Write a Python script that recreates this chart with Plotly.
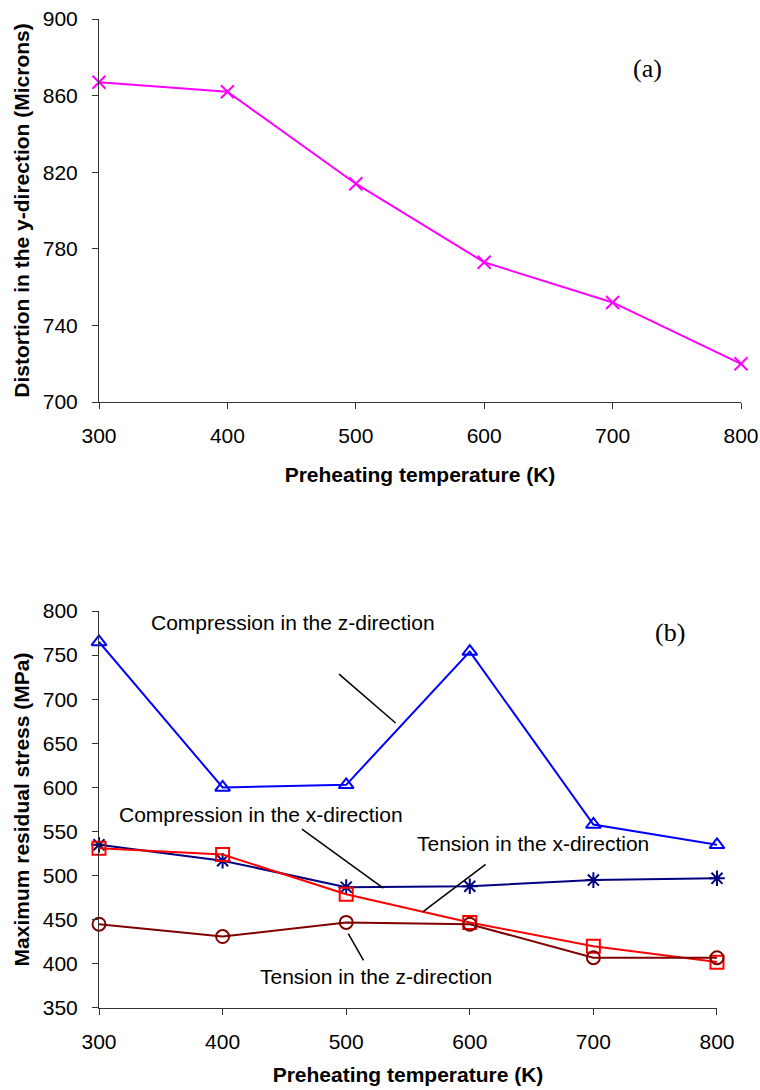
import plotly.graph_objects as go

# ---- data ----
temps = [300, 400, 500, 600, 700, 800]
distortion_y = [867, 862, 814, 773, 752, 720]

compression_z = [765, 600, 603, 754, 558, 535]
compression_x = [535, 517, 487, 488, 495, 497]
tension_x = [531, 524, 479, 447, 420, 402]
tension_z = [445, 431, 447, 445, 407, 407]

top_yticks = [700, 740, 780, 820, 860, 900]
bot_yticks = [350, 400, 450, 500, 550, 600, 650, 700, 750, 800]
xticks = [300, 400, 500, 600, 700, 800]

FONT = "Arial, Liberation Sans, sans-serif"
SERIF = "Times New Roman, Liberation Serif, serif"

fig = go.Figure()

fig.add_trace(go.Scatter(
    x=temps, y=distortion_y, mode="lines+markers", xaxis="x", yaxis="y",
    line=dict(color="#FF00FF", width=2),
    marker=dict(symbol="x-thin", size=13, line=dict(color="#FF00FF", width=2)),
    cliponaxis=False, showlegend=False))

series = [
    (compression_z, "#0000FF", "triangle-up-open"),
    (compression_x, "#000080", "asterisk-open"),
    (tension_x, "#FF0000", "square-open"),
    (tension_z, "#800000", "circle-open"),
]
for vals, col, sym in series:
    fig.add_trace(go.Scatter(
        x=temps, y=vals, mode="lines+markers", xaxis="x2", yaxis="y2",
        line=dict(color=col, width=2),
        marker=dict(symbol=sym, size=13, color=col, line=dict(color=col, width=2)),
        cliponaxis=False, showlegend=False))

axis_common = dict(
    showgrid=False, zeroline=False, showline=True, linecolor="#333333", linewidth=1,
    ticks="outside", ticklen=6, tickcolor="#333333", automargin=False,
    ticklabeloverflow="allow",
    tickfont=dict(family=FONT, size=21, color="black"),
)
title_font = dict(family=FONT, size=21, color="black")

fig.update_layout(
    width=760, height=1090,
    margin=dict(l=99, r=19, t=19, b=82, autoexpand=False),
    paper_bgcolor="white", plot_bgcolor="white",
    xaxis=dict(domain=[0, 1], anchor="y", range=[300, 800], tickvals=xticks,
               ticklabelstandoff=9,
               title=dict(text="<b>Preheating temperature (K)</b>", standoff=21, font=title_font),
               **axis_common),
    yaxis=dict(domain=[0.6127, 1], anchor="x", range=[700, 900], tickvals=top_yticks,
               ticklabelstandoff=10,
               title=dict(text="<b>Distortion in the y-direction (Microns)</b>", standoff=7,
                          font=title_font),
               **axis_common),
    xaxis2=dict(domain=[0, 0.9626], anchor="y2", range=[300, 800], tickvals=xticks,
                ticklabelstandoff=9,
                title=dict(text="<b>Preheating temperature (K)</b>", standoff=15, font=title_font),
                **axis_common),
    yaxis2=dict(domain=[0, 0.4014], anchor="x2", range=[350, 800], tickvals=bot_yticks,
                ticklabelstandoff=10,
                title=dict(text="<b>Maximum residual stress (MPa)</b>", standoff=7,
                           font=title_font),
                **axis_common),
)

# panel labels
fig.add_annotation(x=727, y=874, xref="x", yref="y", text="(a)", showarrow=False,
                   font=dict(family=SERIF, size=26, color="black"))
fig.add_annotation(x=762, y=776, xref="x2", yref="y2", text="(b)", showarrow=False,
                   font=dict(family=SERIF, size=26, color="black"))

# series labels
labels = [
    ("Compression in the z-direction", 457, 787),
    ("Compression in the x-direction", 431, 569),
    ("Tension in the x-direction", 651, 537),
    ("Tension in the z-direction", 524, 386),
]
for txt, lx, ly in labels:
    fig.add_annotation(x=lx, y=ly, xref="x2", yref="y2", text=txt, showarrow=False,
                       font=dict(family=FONT, size=21, color="black"))

# leader lines (start -> end, data coordinates)
leaders = [
    (493, 730, 540, 673),
    (463, 554, 530, 486),
    (614, 514, 562, 459),
    (501, 436, 514, 404),
]
for x0, y0, x1, y1 in leaders:
    fig.add_annotation(x=x1, y=y1, ax=x0, ay=y0, xref="x2", yref="y2",
                       axref="x2", ayref="y2", text="", showarrow=True,
                       arrowhead=0, arrowwidth=1.5, arrowcolor="black")

fig.write_html("out.html", config={"displayModeBar": False},
               post_script="document.body.style.margin='0';")
